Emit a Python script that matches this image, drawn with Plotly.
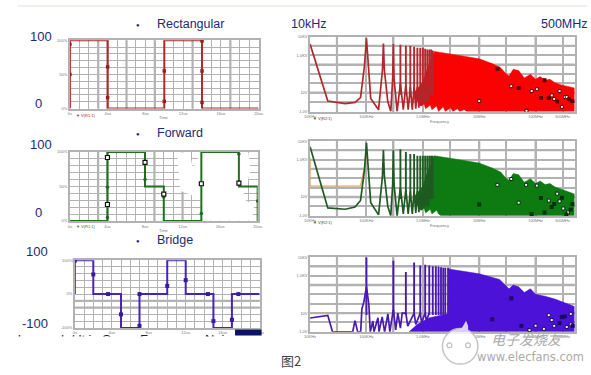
import plotly.graph_objects as go

W, H = 591, 375
NAVY = "#1b2a7c"
GRID = "#b2b2b2"

# ---------- time-domain data (time in us, value in %) ----------
rect_t = [0, 0, 4, 4, 10, 10, 14, 14, 20]
rect_v = [0, 100, 100, 0, 0, 100, 100, 0, 0]
rect_mark_t = [0, 0, 4, 4, 10, 10, 14, 14, 14]
rect_mark_v = [94, 50, 61, 16, 55, 10.5, 99, 55, 9]

fwd_t = [0, 4, 4, 8, 8, 10, 10, 14, 14, 18, 18, 20, 20]
fwd_v = [0, 0, 100, 100, 50, 50, 0, 0, 100, 100, 50, 50, 0]
fwd_box_t = [4, 4, 8, 10, 14, 18]
fwd_box_v = [92, 24, 85, 39, 54, 55]
fwd_dot_t = [4, 4, 8, 10, 14, 18, 20]
fwd_dot_v = [49, 5, 60, 35, 11, 97, 29]
# region of the Forward panel where the source image's grid has been erased
fwd_erased_t = [11.4, 12.7, 13.1, 14, 19, 19.2, 18.8, 18.3, 19.6, 19.4, 14.1, 13.9, 13.1, 11.8, 11.6]
fwd_erased_v = [99, 99, 76, 99, 99, 73, 51, 33, 23, 1, 1, 30, 37, 44, 73]

brg_t = [0, 0, 2, 2, 5, 5, 7, 7, 10, 10, 12, 12, 15, 15, 17, 17, 20]
brg_v = [0, 100, 100, 0, 0, -100, -100, 0, 0, 100, 100, 0, 0, -100, -100, 0, 0]
brg_mark_t = [0, 2, 3.6, 5, 7, 7, 10, 12, 14.4, 15, 17, 17.7]
brg_mark_v = [99, 58, 0, -60, -94, 0, 24, 41, 0, -80, -76, 0]

# ---------- spectrum data (frequency in Hz, level in decades) ----------
rect_line_f = [1e4, 2.06e4, 4.2e4, 6.26e4, 7.85e4, 9.2e4, 1e5, 1.08e5, 1.19e5, 1.64e5, 1.92e5, 2e5, 2.08e5, 2.39e5, 2.7e5,
               2.92e5, 3e5, 3.08e5, 3.5e5, 4e5, 4.5e5, 5e5, 5.5e5, 6e5, 6.5e5, 7e5, 7.5e5, 8e5, 8.5e5, 9e5, 9.5e5, 1e6,
               1.05e6, 1.1e6, 1.15e6, 1.2e6, 1.25e6, 1.3e6]
rect_line_l = [3.6, .56, .42, .49, .74, 2.4, 3.9, 2.4, .7, .09, 2.2, 3.63, 2.2, .53, 0,
               1.8, 3.6, 1.8, 0, 1.5, .1, 1.4, .1, 1.3, .1, 1.3, .15, 1.3, .2, 1.3, .3, 1.3,
               .4, 1.4, .5, 1.5, .5, 1.6]
rect_peak_f = [4e5, 5e5, 6e5, 7e5, 8e5, 9e5, 1e6, 1.1e6, 1.2e6, 1.3e6, 1.4e6, 1.5e6]
rect_peak_l = [3.56, 3.5, 3.5, 3.45, 3.4, 3.4, 3.4, 3.35, 3.3, 3.3, 3.3, 3.25]
rect_fill_f = [6.8e5, 1e6, 1.19e6, 1.4e6, 1.6e6, 3.04e6, 1e7, 1.73e7, 2.4e7, 2.96e7, 3.38e7, 4e7, 5e7, 6.3e7, 8.1e7,
               1e8, 1.2e8, 1.47e8, 1.8e8, 2.2e8, 2.96e8, 4.9e8, 4.9e8, 1.1e7, 6e6, 5.4e6, 4.5e6, 4.1e6, 3.4e6, 3.1e6, 2.5e6, 2.3e6,
               1.9e6, 1.75e6, 1.45e6, 1.35e6, 1.12e6, 1.05e6, 9e5, 8.5e5, 7.4e5, 6.8e5]
rect_fill_l = [.96, 1.58, 2.28, 2.81, 3.2, 3.07, 2.81, 2.54, 2.33, 2.02, 1.89, 2.25, 2.19, 1.79, 1.98,
               1.72, 1.86, 1.67, 1.72, 1.54, 1.4, 1.26, 0, 0, 0, .1, 0, .15, 0, .2, 0, .25,
               0, .3, .1, .35, .15, .4, .3, .55, .6, .96]
rect_mark_f = [1e7, 3.7e7, 6.9e7, 8.5e7, 1.05e8, 1.93e8, 2.14e8, 2.66e8, 2.92e8, 3.29e8, 3.56e8]
rect_mark_l = [.56, 1.35, .04, 1.09, 1.19, .86, .67, 1.09, .25, .77, .77]
rect_dark_f = [2.12e7, 5e7, 1.24e8, 1.44e8, 1.71e8, 2.42e8, 3.92e8, 4.48e8]
rect_dark_l = [2.28, 1.25, .72, 1.67, .72, .53, .65, .56]

fwd_line_f = [1e4, 2.06e4, 4.2e4, 6.26e4, 7.85e4, 9.2e4, 1e5, 1.08e5, 1.19e5, 1.64e5, 1.92e5, 2e5, 2.08e5, 2.39e5, 2.7e5,
              2.92e5, 3e5, 3.08e5, 3.5e5, 4e5, 4.5e5, 5e5, 5.5e5, 6e5, 6.5e5, 7e5, 7.5e5, 8e5, 8.5e5, 9e5, 9.5e5, 1e6,
              1.05e6, 1.1e6, 1.15e6, 1.2e6, 1.25e6, 1.3e6]
fwd_line_l = [3.68, .42, .35, .47, .82, 2.4, 3.89, 2.4, .7, .05, 2.1, 3.5, 2.1, .5, 0,
              1.7, 3.5, 1.7, 0, 1.5, .1, 1.4, .1, 1.3, .1, 1.3, .15, 1.3, .2, 1.3, .3, 1.3,
              .4, 1.4, .5, 1.5, .5, 1.6]
fwd_peak_f = [4e5, 5e5, 6e5, 7e5, 8e5, 9e5, 1e6, 1.1e6, 1.2e6, 1.3e6, 1.4e6, 1.5e6]
fwd_peak_l = [3.55, 3.4, 3.3, 3.3, 3.2, 3.2, 3.2, 3.2, 3.2, 3.2, 3.2, 3.2]
fwd_fill_f = [6.8e5, 1e6, 1.19e6, 1.4e6, 1.6e6, 3.04e6, 1e7, 1.73e7, 2.4e7, 2.96e7, 3.38e7, 4e7, 5e7, 6.3e7, 8.1e7,
              1e8, 1.2e8, 1.47e8, 1.8e8, 2.2e8, 2.96e8, 4.9e8, 4.9e8, 2.1e6, 1.9e6, 1.75e6, 1.45e6, 1.35e6, 1.12e6, 1.05e6, 9e5, 8.5e5, 7.4e5, 6.8e5]
fwd_fill_l = [.96, 1.58, 2.28, 2.81, 3.2, 3.07, 2.81, 2.54, 2.33, 2.02, 1.89, 2.25, 2.19, 1.79, 1.98,
              1.72, 1.86, 1.67, 1.72, 1.54, 1.4, 1.16, 0, 0, .1, .3, .1, .35, .15, .4, .3, .55, .6, .96]
fwd_mark_f = [2.1e7, 3.7e7, 6.8e7, 1.05e8, 2.42e8, 1.71e8, 2.66e8, 3.1e8, 3.75e8, 5e7]
fwd_mark_l = [1.65, 1.96, 1.65, 1.61, 1.18, .81, .77, .39, .18, .7]
fwd_dark_f = [1e7, 8.5e7, 1.24e8, 1.44e8, 1.93e8, 2.14e8, 2.92e8, 4.48e8, 4.2e8, 3.5e8]
fwd_dark_l = [.61, .09, .95, .18, .47, .63, .96, .63, .33, .07]
fwd_ghost_f = [1e4, 1e4, 7.85e4, 1e5]
fwd_ghost_l = [3.1, 1.58, 1.58, 3.1]

brg_line_f = [1e4, 2.06e4, 2.5e4, 5.7e4, 6.26e4, 7e4, 7.9e4, 8.3e4, 9e4, 1e5, 1.1e5, 1.17e5, 1.3e5, 1.36e5, 1.6e5, 1.67e5,
              1.9e5, 2.1e5, 2.4e5, 2.6e5, 3e5, 3.3e5, 3.6e5, 4e5, 4.3e5, 5e5, 5.4e5, 7e5, 7.5e5, 9e5, 9.5e5, 1.1e6, 1.15e6, 1.3e6]
brg_line_l = [.74, .88, 0, 0, .6, 0, 0, 1.23, 1.6, 2.4, 1.5, 0, .58, 0, .75, 0,
              .8, 0, .96, 0, 1.2, .1, 1.0, .2, 1.0, 1.0, .3, 1.0, .4, 1.0, .5, 1.0, .6, 1.0]
brg_peak_f = [1e5, 3e5, 5e5, 7e5, 9e5, 1.1e6, 1.3e6, 1.5e6, 1.7e6, 1.9e6, 2.1e6, 2.3e6, 2.5e6, 2.8e6]
brg_peak_l = [3.98, 3.8, 3.2, 3.7, 3.54, 3.58, 3.54, 3.5, 3.5, 3.47, 3.45, 3.42, 3.42, 3.42]
brg_fill_f = [5.7e5, 8e5, 1.3e6, 2.84e6, 2.9e6, 1e7, 2.3e7, 2.96e7, 3.38e7, 4e7, 5e7, 6.3e7, 8.1e7, 1e8, 1.47e8, 2.2e8, 4.9e8, 4.9e8, 5.7e5]
brg_fill_l = [0, .4, .75, .96, 3.35, 3.1, 2.8, 2.46, 2.3, 2.5, 2.4, 2.1, 2.3, 2.0, 1.9, 1.75, 1.35, 0, 0]
brg_mark_f = [1.71e8, 1.93e8, 4.2e8, 1e8, 7.8e7, 1.4e8, 2.14e8, 3.56e8, 4.2e8]
brg_mark_l = [.89, .63, .96, .33, .09, .16, .32, .26, .4]
brg_dark_f = [3.7e7, 1.7e7, 5.6e7, 2.92e8, 2.66e8, 3.29e8, 4.55e8]
brg_dark_l = [1.79, .67, .32, .79, .47, .82, .32]

# ---------- axis labels ----------
time_ticks = list(range(0, 21))
time_text = {0: "0s", 4: "4us", 8: "8us", 12: "12us", 16: "16us", 20: "20us"}
freq_ticks = [1e4, 3e4, 1e5, 3e5, 1e6, 3e6, 1e7, 3e7, 1e8, 3e8]
freq_text = ["10KHz", "", "100KHz", "", "1.0MHz", "", "10MHz", "", "100MHz", "300MHz"]
level_ticks = [0, .5, 1, 1.5, 2, 2.5, 3, 3.5, 3.98]
level_text = ["1.0V", "", "10V", "", "", "", "1.0KV", "", "10KV"]
cut_caption = "Lower dv/dt in Same Frequency Noise of Bridge"

fig = go.Figure()
layout_axes = {}
n = [0]
shapes = []


def panel(x0, x1, y0, y1, kind, yrange=None, ytv=None, ytt=None, thick_x=(), thick_y=()):
    n[0] += 1
    i = n[0]
    sx = "" if i == 1 else str(i)
    gw = 1 if kind == "t" else 1.6
    common = dict(showline=True, linecolor=GRID, linewidth=1.5, showgrid=True, gridcolor=GRID, gridwidth=gw,
                  zeroline=False, ticks="", tickfont=dict(size=4, color="#777", family="Liberation Sans"),
                  mirror=True, ticklen=0, tickangle=0)
    if kind == "t":
        xa = dict(type="linear", range=[0, 20], tickvals=time_ticks,
                  ticktext=[time_text.get(v, "") for v in time_ticks], **common)
    else:
        xa = dict(type="log", range=[4, 8.69], tickvals=freq_ticks, ticktext=freq_text, **common)
    ya = dict(type="linear", range=yrange, tickvals=ytv, ticktext=ytt, **common)
    layout_axes["xaxis" + sx] = dict(domain=[x0 / W, x1 / W], anchor="y" + sx, **xa)
    layout_axes["yaxis" + sx] = dict(domain=[1 - y1 / H, 1 - y0 / H], anchor="x" + sx, **ya)
    for v in thick_x:
        shapes.append(dict(type="line", xref="x" + sx, yref="y" + sx + " domain", x0=v, x1=v, y0=0, y1=1,
                           line=dict(color=GRID, width=2.2), layer="below"))
    for v in thick_y:
        shapes.append(dict(type="line", xref="x" + sx + " domain", yref="y" + sx, x0=0, x1=1, y0=v, y1=v,
                           line=dict(color=GRID, width=2.4), layer="below"))
    return "x" + sx, "y" + sx


def line(ax, x, y, color, width=1.6, clip=True):
    fig.add_trace(go.Scatter(x=x, y=y, mode="lines", xaxis=ax[0], yaxis=ax[1], cliponaxis=clip,
                             line=dict(color=color, width=width), showlegend=False, hoverinfo="skip"))


def stems(ax, xs, ys, color, width=1.9):
    sx, sy = [], []
    for x, y in zip(xs, ys):
        sx += [x, x, None]
        sy += [0.9, y, None]
    line(ax, sx, sy, color, width)


def area(ax, x, y, color):
    fig.add_trace(go.Scatter(x=x, y=y, mode="lines", fill="toself", fillcolor=color, xaxis=ax[0], yaxis=ax[1],
                             line=dict(color=color, width=0.5), showlegend=False, hoverinfo="skip"))


def marks(ax, x, y, color, size=3.5, edge=None, sym="square", ew=1):
    fig.add_trace(go.Scatter(x=x, y=y, mode="markers", xaxis=ax[0], yaxis=ax[1], showlegend=False, hoverinfo="skip",
                             cliponaxis=False, marker=dict(symbol=sym, size=size, color=color,
                                                           line=dict(color=edge or color, width=ew if edge else 0))))


pct_tv = list(range(0, 101, 10))
pct_tt = ["0%" if v == 0 else "50%" if v == 50 else "100%" if v == 100 else "" for v in pct_tv]
brg_tv = list(range(-100, 101, 20))
brg_tt = ["-100%" if v == -100 else "0%" if v == 0 else "100%" if v == 100 else "" for v in brg_tv]
spec_thick_x = [3e4, 3e5, 1e7, 1e8]
spec_thick_y = [2.5, 1.0, 3.5]

# Rectangular
a = panel(65, 257, 37.7, 107, "t", [0, 100], pct_tv, pct_tt, thick_x=[3, 4, 6, 9, 13, 17])
line(a, rect_t, rect_v, "#b02a2a", 2, clip=False)
marks(a, rect_mark_t, rect_mark_v, "#9c1c1c", 3.5)
a = panel(309.3, 578.3, 34.3, 110, "f", [0, 3.98], level_ticks, level_text, spec_thick_x, spec_thick_y)
area(a, rect_fill_f, rect_fill_l, "#fb0202")
line(a, rect_line_f, rect_line_l, "#b3262b", 1.7)
stems(a, rect_peak_f, rect_peak_l, "#b3262b")
marks(a, rect_mark_f, rect_mark_l, "#ffffff", 3, "#5a0000")
marks(a, rect_dark_f, rect_dark_l, "#600000", 4)

# Forward
a = panel(65, 256, 151, 221, "t", [0, 100], pct_tv, pct_tt, thick_x=[3, 4, 9, 12])
area(a, fwd_erased_t, fwd_erased_v, "#ffffff")
line(a, fwd_t, fwd_v, "#1f6f1f", 2, clip=False)
marks(a, fwd_dot_t, fwd_dot_v, "#1c6a1c", 3.5, sym="circle")
marks(a, fwd_box_t, fwd_box_v, "#ffffff", 4, "#111111", ew=1.2)
a = panel(309.3, 578.3, 140, 215.7, "f", [0, 3.98], level_ticks, level_text, spec_thick_x, spec_thick_y)
area(a, fwd_fill_f, fwd_fill_l, "#0d7a12")
line(a, fwd_ghost_f, fwd_ghost_l, "#e0a468", 1.3)
line(a, fwd_line_f, fwd_line_l, "#1f5a22", 1.7)
stems(a, fwd_peak_f, fwd_peak_l, "#1f5a22")
marks(a, fwd_mark_f, fwd_mark_l, "#ffffff", 3, "#04300a")
marks(a, fwd_dark_f, fwd_dark_l, "#04300a", 4)

# Bridge
a = panel(70, 258, 260.7, 329.3, "t", [-100, 100], brg_tv, brg_tt, thick_y=[-20, -40])
line(a, brg_t, brg_v, "#4a22b8", 2, clip=False)
marks(a, brg_mark_t, brg_mark_v, "#3a1a9c", 4)
a = panel(309.3, 578.3, 257.7, 333.3, "f", [0, 3.98], level_ticks, level_text, spec_thick_x, spec_thick_y)
area(a, brg_fill_f, brg_fill_l, "#4c12d8")
line(a, brg_line_f, brg_line_l, "#4a1ab0", 1.7)
stems(a, brg_peak_f, brg_peak_l, "#4a1ab0")
marks(a, brg_mark_f, brg_mark_l, "#ffffff", 3, "#1a0a60")
marks(a, brg_dark_f, brg_dark_l, "#1a0a60", 4)

# Caption cropped by the screenshot edge: real text clipped by a hidden axis box
layout_axes["xaxis7"] = dict(domain=[12 / W, 233 / W], range=[0, 1], visible=False, anchor="y7")
layout_axes["yaxis7"] = dict(domain=[1 - 338 / H, 1 - 335 / H], range=[0, 1], visible=False, anchor="x7")
fig.add_trace(go.Scatter(x=[0], y=[-1.3], mode="text", text=[cut_caption], textposition="middle right", cliponaxis=True,
                         textfont=dict(size=13, color="#222222", family="Liberation Sans"),
                         xaxis="x7", yaxis="y7", showlegend=False, hoverinfo="skip"))


def px(x, y):
    return x / W, 1 - y / H


annotations = []


def label(x, y, text, size=14, color=NAVY, anchor="left", family="Liberation Sans"):
    fx, fy = px(x, y)
    annotations.append(dict(x=fx, y=fy, xref="paper", yref="paper", text=text, showarrow=False, xanchor=anchor,
                            yanchor="middle", font=dict(size=size, color=color, family=family), borderpad=0))


for t, x, y in [("Rectangular", 153, 21.5), ("Forward", 153, 131.5), ("Bridge", 153, 240.5)]:
    label(x, y, t, 12.5)
    label(134, y + 1, "●", 6, "#1a1f86", "center")
label(289, 21.5, "10kHz", 12.5)
label(543, 21.5, "500MHz", 12.5)
for t, x, y in [("100", 48, 33.5), ("0", 38, 102), ("100", 48, 143), ("0", 38, 212), ("100", 44, 252), ("-100", 44, 325)]:
    label(x, y, t, 13, NAVY, "right")
for x, y in [(161, 116), (161, 231)]:
    label(x, y, "Time", 4, "#777", "center")
for x, y in [(441, 120), (441, 225)]:
    label(x, y, "Frequency", 4, "#777", "center")
for x, y, c in [(70, 114, "#9c1c1c"), (70, 227, "#1f6f1f")]:
    label(x, y, "▼ V(R1:1)", 4, c)
for x, y, c in [(311, 117, "#7a1c2c"), (311, 222, "#1f5a22")]:
    label(x, y, "▼ V(R2:1)", 4, c)
label(290, 362, "图2", 13, "#444", "center", "Noto Sans CJK SC")
label(530, 341, "<i>电子发烧友</i>", 14, "#aaaaaa", "center", "Noto Sans CJK SC")
label(534, 359, "www.elecfans.com", 11.5, "#aaaaaa", "center", "DejaVu Sans")


def rect(x0, y0, x1, y1, color, layer="above"):
    fx0, fy0 = px(x0, y0)
    fx1, fy1 = px(x1, y1)
    return dict(type="rect", xref="paper", yref="paper", x0=fx0, x1=fx1, y0=fy0, y1=fy1, fillcolor=color,
                line=dict(width=0), layer=layer)


def poly(points, color, layer="above"):
    path = "M " + " L ".join(f"{x / W:.4f},{1 - y / H:.4f}" for x, y in points) + " Z"
    return dict(type="path", xref="paper", yref="paper", path=path, fillcolor=color, line=dict(width=0), layer=layer)


def circle(cx, cy, r, fill, edge, lw=1.5):
    fx0, fy0 = px(cx - r, cy + r)
    fx1, fy1 = px(cx + r, cy - r)
    return dict(type="circle", xref="paper", yref="paper", x0=fx0, x1=fx1, y0=fy0, y1=fy1, fillcolor=fill,
                line=dict(color=edge, width=lw), layer="above")


shapes += [
    rect(12, 2.5, W, 3.5, "#d6e6d6"),
    rect(233, 331, 260, 337, "#0a1166"),
    circle(462, 348, 18, "rgba(255,255,255,0.8)", "rgba(190,190,190,0.9)"),
    poly([(455, 333.5), (464, 329), (468, 322), (470, 327), (470, 333.5)], "#dccdf6"),
    circle(451, 347, 2.5, "#ffffff", "#bdbdbd", 1.2),
    circle(470, 347, 2.5, "#ffffff", "#bdbdbd", 1.2),
]

fig.update_layout(width=W, height=H, margin=dict(l=0, r=0, t=0, b=0), paper_bgcolor="#ffffff", plot_bgcolor="#ffffff",
                  showlegend=False, annotations=annotations, shapes=shapes, **layout_axes)
fig.write_html("out.html", config={"displayModeBar": False},
               post_script="document.body.style.margin='0';document.body.style.overflow='hidden';")
